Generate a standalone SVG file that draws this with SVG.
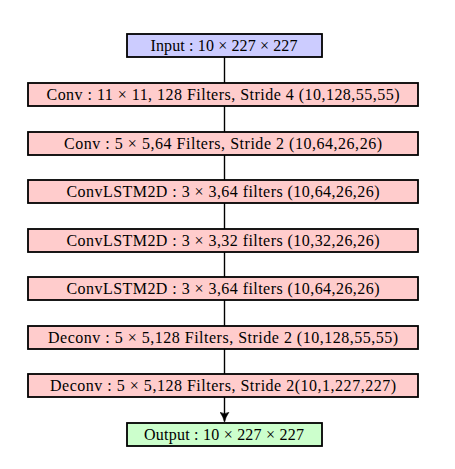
<svg xmlns="http://www.w3.org/2000/svg" width="455" height="469" viewBox="0 0 455 469">
<style>
  .box { stroke: #000; stroke-width: 1.8; }
  .io { fill: #ccccff; }
  .layer { fill: #ffcccc; }
  .out { fill: #ccffcc; }
  .lbl { font-family: "Liberation Serif", "DejaVu Serif", serif; font-size: 16px; fill: #000; text-anchor: middle; }
  .conn { stroke: #000; stroke-width: 1.4; fill: none; }
</style>
<defs>
  <marker id="arrow" viewBox="0 0 10 10" refX="9.5" refY="5" markerWidth="10" markerHeight="10" markerUnits="userSpaceOnUse" orient="auto">
    <path d="M0.3,0.6 Q5,3.8 9.8,5 Q5,6.2 0.3,9.4 Q3,5 0.3,0.6 Z" fill="#000" stroke="#000" stroke-width="0.6" stroke-linejoin="round"/>
  </marker>
</defs>
<rect width="455" height="469" fill="#fff"/>
<g id="connectors">
  <line class="conn" x1="224.5" y1="57" x2="224.5" y2="83"/>
  <line class="conn" x1="224.5" y1="106" x2="224.5" y2="132"/>
  <line class="conn" x1="224.5" y1="155" x2="224.5" y2="180"/>
  <line class="conn" x1="224.5" y1="203" x2="224.5" y2="229"/>
  <line class="conn" x1="224.5" y1="252" x2="224.5" y2="277"/>
  <line class="conn" x1="224.5" y1="300" x2="224.5" y2="326"/>
  <line class="conn" x1="224.5" y1="349" x2="224.5" y2="374"/>
  <line class="conn" x1="224.5" y1="397" x2="224.5" y2="421.5" marker-end="url(#arrow)"/>
</g>
<g id="input">
  <rect class="box io" x="127" y="34" width="195" height="23"/>
  <text class="lbl" x="224" y="51" textLength="147">Input : 10 × 227 × 227</text>
</g>
<g id="conv1">
  <rect class="box layer" x="28" y="83" width="390" height="23"/>
  <text class="lbl" x="223" y="100" textLength="353">Conv : 11 × 11, 128 Filters, Stride 4 (10,128,55,55)</text>
</g>
<g id="conv2">
  <rect class="box layer" x="28" y="132" width="390" height="23"/>
  <text class="lbl" x="223" y="149" textLength="318">Conv : 5 × 5,64 Filters, Stride 2 (10,64,26,26)</text>
</g>
<g id="convlstm1">
  <rect class="box layer" x="28" y="180" width="390" height="23"/>
  <text class="lbl" x="223" y="197" textLength="313">ConvLSTM2D : 3 × 3,64 filters (10,64,26,26)</text>
</g>
<g id="convlstm2">
  <rect class="box layer" x="28" y="229" width="390" height="23"/>
  <text class="lbl" x="223" y="246" textLength="313">ConvLSTM2D : 3 × 3,32 filters (10,32,26,26)</text>
</g>
<g id="convlstm3">
  <rect class="box layer" x="28" y="277" width="390" height="23"/>
  <text class="lbl" x="223" y="294" textLength="313">ConvLSTM2D : 3 × 3,64 filters (10,64,26,26)</text>
</g>
<g id="deconv1">
  <rect class="box layer" x="28" y="326" width="390" height="23"/>
  <text class="lbl" x="223" y="343" textLength="350">Deconv : 5 × 5,128 Filters, Stride 2 (10,128,55,55)</text>
</g>
<g id="deconv2">
  <rect class="box layer" x="28" y="374" width="390" height="23"/>
  <text class="lbl" x="223" y="391" textLength="346">Deconv : 5 × 5,128 Filters, Stride 2(10,1,227,227)</text>
</g>
<g id="output">
  <rect class="box out" x="127" y="423" width="195" height="23"/>
  <text class="lbl" x="224" y="440" textLength="160">Output : 10 × 227 × 227</text>
</g>
</svg>
